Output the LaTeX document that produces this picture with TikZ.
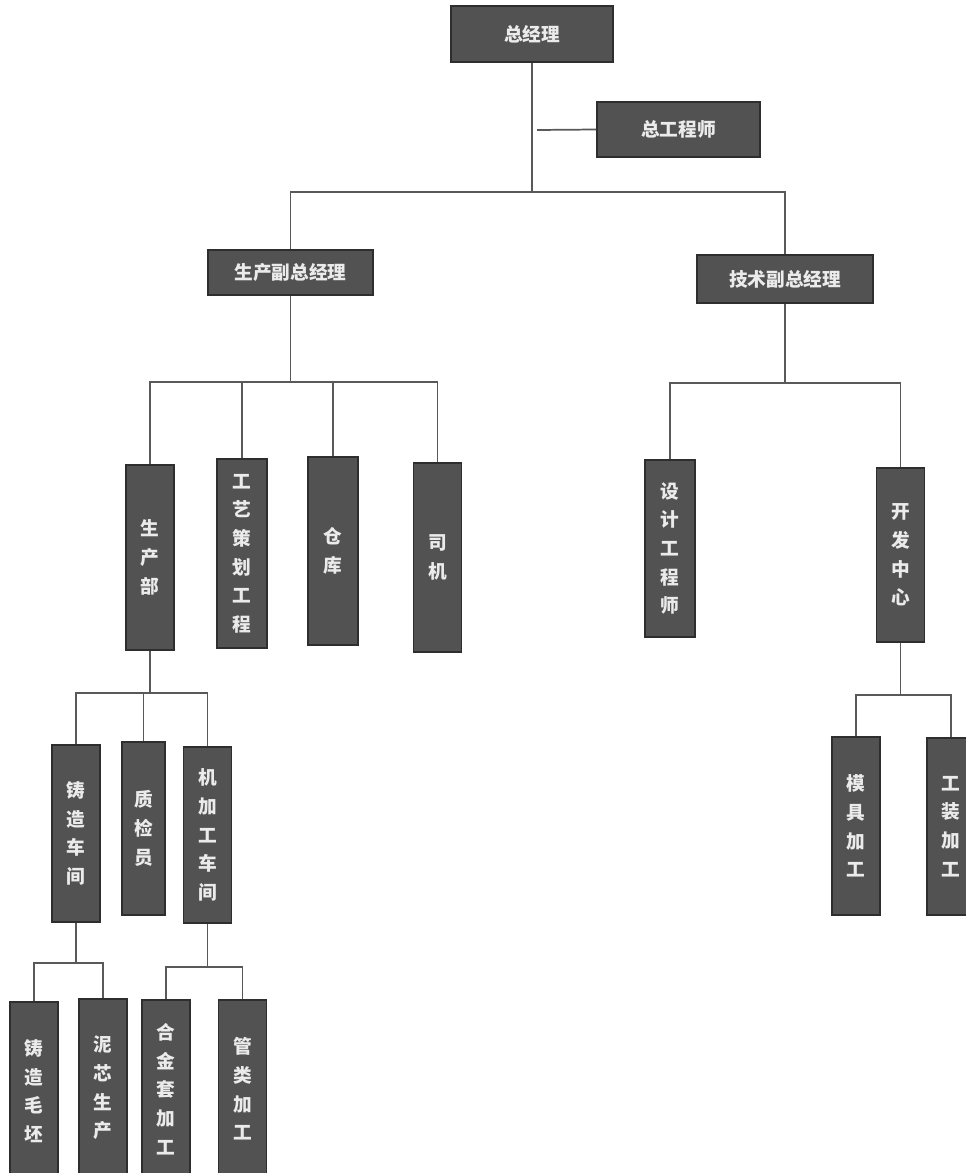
\documentclass[tikz,border=0pt]{standalone}
\usepackage{fontspec}
\newfontfamily\cjk{Noto Sans CJK SC}
\usetikzlibrary{calc}
\tikzset{
  org/.style={draw=black!82, line width=1.4pt, fill=black!68, text=white!92!black,
    font=\cjk\bfseries\fontsize{14}{16}\selectfont, inner sep=0pt, anchor=center, align=center},
  hbox/.style={org, minimum width=#1*0.75pt, minimum height=52*0.75pt},
  vbox/.style={org, minimum width=48*0.75pt, minimum height=#1*0.75pt,
    font=\cjk\bfseries\fontsize{14}{21.5}\selectfont},
  link/.style={draw=black!65, line width=1.3pt}
}
\begin{document}
\begin{tikzpicture}[x=0.75pt,y=-0.75pt]
\useasboundingbox (0,0) rectangle (966,1173);
% level 0-1
\node[hbox=162, minimum height=56*0.75pt] (ceo) at (532,34) {总经理};
\node[hbox=163, minimum height=55*0.75pt] (cte) at (678.5,129.5) {总工程师};
\node[hbox=165, minimum height=45*0.75pt] (vpp) at (290.5,272.5) {生产副总经理};
\node[hbox=176, minimum height=48*0.75pt] (vpt) at (785,279) {技术副总经理};
% level 3
\node[vbox=185] (scb) at (150,557.5) {生\\产\\部};
\node[vbox=189, minimum width=50*0.75pt] (gy) at (242,553.5) {工\\艺\\策\\划\\工\\程};
\node[vbox=188, minimum width=50*0.75pt] (ck) at (333,551) {仓\\库};
\node[vbox=189] (sj) at (437.5,557.5) {司\\机};
\node[vbox=177, minimum width=50*0.75pt] (sjgcs) at (670,548.5) {设\\计\\工\\程\\师};
\node[vbox=174] (kfzx) at (900.5,555) {开\\发\\中\\心};
% level 4
\node[vbox=177] (zzcj) at (76,833.5) {铸\\造\\车\\间};
\node[vbox=173, minimum width=43*0.75pt] (zjy) at (143.5,828.5) {质\\检\\员};
\node[vbox=176] (jjg) at (207.5,835) {机\\加\\工\\车\\间};
\node[vbox=178] (mj) at (856,826) {模\\具\\加\\工};
\node[vbox=177] (gz) at (951,826.5) {工\\装\\加\\工};
% level 5
\node[vbox=178] (zzmp) at (34,1091) {铸\\造\\毛\\坯};
\node[vbox=178] (nx) at (103,1088) {泥\\芯\\生\\产};
\node[vbox=178] (hj) at (166,1089) {合\\金\\套\\加\\工};
\node[vbox=178] (gl) at (242.5,1089) {管\\类\\加\\工};
% bus coordinates
\coordinate (b1) at (0,192);
\coordinate (b2) at (0,382);
\coordinate (b3) at (0,383);
\coordinate (b4) at (0,693);
\coordinate (b5) at (0,695);
\coordinate (b6) at (0,963);
\coordinate (b7) at (0,967);
\coordinate (ctej) at (537,130);
% connectors
\draw[link] (ceo.south) -- (ceo.south |- b1);
\draw[link] (cte.west) -- (ctej);
\draw[link] (vpp.north) -- (vpp.north |- b1) -| (vpt.north);
\draw[link] (vpp.south) -- (vpp.south |- b2);
\draw[link] (scb.north) -- (scb.north |- b2) -| (sj.north);
\draw[link] (gy.north) -- (gy.north |- b2);
\draw[link] (ck.north) -- (ck.north |- b2);
\draw[link] (vpt.south) -- (vpt.south |- b3);
\draw[link] (sjgcs.north) -- (sjgcs.north |- b3) -| (kfzx.north);
\draw[link] (scb.south) -- (scb.south |- b4);
\draw[link] (zzcj.north) -- (zzcj.north |- b4) -| (jjg.north);
\draw[link] (zjy.north) -- (zjy.north |- b4);
\draw[link] (kfzx.south) -- (kfzx.south |- b5);
\draw[link] (mj.north) -- (mj.north |- b5) -| (gz.north);
\draw[link] (zzcj.south) -- (zzcj.south |- b6);
\draw[link] (zzmp.north) -- (zzmp.north |- b6) -| (nx.north);
\draw[link] (jjg.south) -- (jjg.south |- b7);
\draw[link] (hj.north) -- (hj.north |- b7) -| (gl.north);
\end{tikzpicture}
\end{document}
